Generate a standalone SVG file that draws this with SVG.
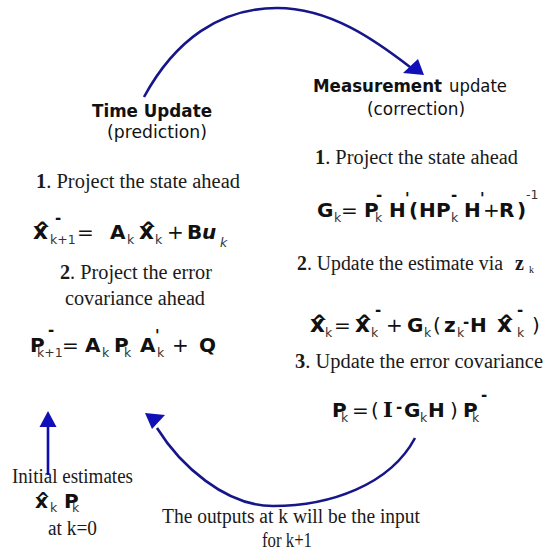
<svg xmlns="http://www.w3.org/2000/svg" width="543" height="557" viewBox="0 0 543 557">
<style>
.sr{font-family:"Liberation Serif","Times New Roman",serif;font-size:20px;fill:#1a1a1a}
.hd{font-family:"DejaVu Sans",Verdana,sans-serif;font-size:17.5px;fill:#111}
.eq{font-family:"DejaVu Sans",Verdana,sans-serif;font-weight:bold;font-size:20px;fill:#111}
.x{font-size:23px}
.r{font-weight:normal}
.s{font-weight:normal;font-size:12.5px;fill:#333}
.sp{font-size:15px}
.hat{font-size:20px}
.arc{fill:none;stroke:#16168a;stroke-width:2.6}
.head{fill:#1010b8}
</style>
<rect width="543" height="557" fill="#ffffff"/>

<g id="connectors">
  <path class="arc" d="M144,97 C175,40 220,8 277,8 C330,8 375,40 410,67"/>
  <polygon class="head" points="424,75 403,73 418,59"/>
  <path class="arc" d="M415,438 C390,485 330,506 273,506 C225,506 180,465 157,428"/>
  <polygon class="head" points="145,413 165,415 152,429"/>
  <line x1="48" y1="475" x2="48" y2="424" stroke="#0c0cb0" stroke-width="2.6"/>
  <polygon class="head" points="48,411 39.5,427 56.5,427"/>
</g>

<g id="time-update">
  <text class="hd" x="92" y="117" font-weight="bold" textLength="120" lengthAdjust="spacingAndGlyphs">Time Update</text>
  <text class="hd" x="107" y="138" textLength="100" lengthAdjust="spacingAndGlyphs">(prediction)</text>
  <text class="sr" x="36" y="188" textLength="204" lengthAdjust="spacingAndGlyphs"><tspan font-weight="bold">1</tspan>. Project the state ahead</text>
  <text id="eq-state-predict" class="eq"><tspan class="x" x="33" y="239">x</tspan><tspan class="hat" x="34" y="236">^</tspan><tspan class="sp" x="55" y="223">-</tspan><tspan class="s" x="50" y="244">k+1</tspan><tspan class="r" x="77" y="239">=</tspan><tspan x="110" y="239">A</tspan><tspan class="s" x="127" y="244">k</tspan><tspan class="x" x="139" y="239">x</tspan><tspan class="hat" x="140" y="236">^</tspan><tspan class="s" x="155" y="244">k</tspan><tspan class="r" x="167" y="239">+</tspan><tspan x="187" y="239">B</tspan><tspan x="202" y="239" font-style="italic">u</tspan><tspan class="s" x="220" y="247" font-style="italic">k</tspan></text>
  <text class="sr" x="60" y="279" textLength="152" lengthAdjust="spacingAndGlyphs"><tspan font-weight="bold">2</tspan>. Project the error</text>
  <text class="sr" x="65" y="305" textLength="140" lengthAdjust="spacingAndGlyphs">covariance ahead</text>
  <text id="eq-cov-predict" class="eq"><tspan x="30" y="352">P</tspan><tspan class="sp" x="48" y="335">-</tspan><tspan class="s" x="37" y="357">k+1</tspan><tspan class="r" x="62" y="352">=</tspan><tspan x="85" y="352">A</tspan><tspan class="s" x="102" y="357">k</tspan><tspan x="114" y="352">P</tspan><tspan class="s" x="124" y="357">k</tspan><tspan x="140" y="352">A</tspan><tspan class="sp" x="155" y="341">'</tspan><tspan class="s" x="157" y="357">k</tspan><tspan class="r" x="172" y="352">+</tspan><tspan x="199" y="352">Q</tspan></text>
</g>

<g id="measurement-update">
  <text class="hd" x="313" y="92" font-weight="bold" textLength="129" lengthAdjust="spacingAndGlyphs">Measurement</text>
  <text class="hd" x="449" y="92" textLength="58" lengthAdjust="spacingAndGlyphs">update</text>
  <text class="hd" x="367" y="115" textLength="98" lengthAdjust="spacingAndGlyphs">(correction)</text>
  <text class="sr" x="315" y="164" textLength="203" lengthAdjust="spacingAndGlyphs"><tspan font-weight="bold">1</tspan>. Project the state ahead</text>
  <text id="eq-gain" class="eq"><tspan x="317" y="217">G</tspan><tspan class="s" x="334" y="222">k</tspan><tspan class="r" x="341" y="217">=</tspan><tspan x="364" y="217">P</tspan><tspan class="sp" x="376" y="200">-</tspan><tspan class="s" x="375" y="222">k</tspan><tspan x="389" y="217">H</tspan><tspan class="sp" x="405" y="204">'</tspan><tspan x="409" y="217">(</tspan><tspan x="419" y="217">H</tspan><tspan x="436" y="217">P</tspan><tspan class="sp" x="451" y="200">-</tspan><tspan class="s" x="451" y="222">k</tspan><tspan x="464" y="217">H</tspan><tspan class="sp" x="480" y="204">'</tspan><tspan class="r" x="483" y="217">+</tspan><tspan x="499" y="217">R</tspan><tspan x="517" y="217">)</tspan><tspan class="s" x="526" y="199">-1</tspan></text>
  <text class="sr" x="297" y="270"><tspan textLength="206" lengthAdjust="spacingAndGlyphs"><tspan font-weight="bold">2</tspan>. Update the estimate via</tspan><tspan x="515" y="270" font-weight="bold">z</tspan><tspan x="529" y="273" font-size="10">k</tspan></text>
  <text id="eq-state-update" class="eq"><tspan class="x" x="310" y="332">x</tspan><tspan class="hat" x="311" y="329">^</tspan><tspan class="s" x="325" y="337">k</tspan><tspan class="r" x="334" y="332">=</tspan><tspan class="x" x="355" y="332">x</tspan><tspan class="hat" x="356" y="329">^</tspan><tspan class="sp" x="375" y="315">-</tspan><tspan class="s" x="371" y="337">k</tspan><tspan class="r" x="386" y="332">+</tspan><tspan x="407" y="332">G</tspan><tspan class="s" x="424" y="337">k</tspan><tspan class="r" x="433" y="332">(</tspan><tspan x="444" y="332">z</tspan><tspan class="s" x="457" y="337">k</tspan><tspan class="sp" x="463" y="327">-</tspan><tspan x="470" y="332">H</tspan><tspan class="x" x="497" y="332">x</tspan><tspan class="hat" x="498" y="329">^</tspan><tspan class="sp" x="517" y="315">-</tspan><tspan class="s" x="517" y="337">k</tspan><tspan class="r" x="532" y="332">)</tspan></text>
  <text class="sr" x="295" y="368" textLength="248" lengthAdjust="spacingAndGlyphs"><tspan font-weight="bold">3</tspan>. Update the error covariance</text>
  <text id="eq-cov-update" class="eq"><tspan x="332" y="417">P</tspan><tspan class="s" x="341" y="422">k</tspan><tspan class="r" x="352" y="417">=</tspan><tspan class="r" x="371" y="417">(</tspan><tspan x="383" y="417" font-family="DejaVu Serif, serif" font-size="21">I</tspan><tspan class="sp" x="396" y="412">-</tspan><tspan x="404" y="417">G</tspan><tspan class="s" x="420" y="422">k</tspan><tspan x="428" y="417">H</tspan><tspan class="r" x="450" y="417">)</tspan><tspan x="463" y="417">P</tspan><tspan class="sp" x="481" y="400">-</tspan><tspan class="s" x="472" y="422">k</tspan></text>
</g>

<g id="initial-estimates">
  <text class="sr" x="12" y="483" textLength="121" lengthAdjust="spacingAndGlyphs">Initial estimates</text>
  <text class="eq" font-size="17"><tspan x="35" y="508" font-size="20">x</tspan><tspan x="36" y="505" font-size="17">^</tspan><tspan class="s" x="50" y="512">k</tspan><tspan x="64" y="508">P</tspan><tspan class="s" x="72" y="512">k</tspan></text>
  <text class="sr" x="48" y="535" textLength="49" lengthAdjust="spacingAndGlyphs">at k=0</text>
</g>

<g id="loop-note">
  <text class="sr" x="162" y="523" textLength="258" lengthAdjust="spacingAndGlyphs">The outputs at k will be the input</text>
  <text class="sr" x="262" y="547" textLength="50" lengthAdjust="spacingAndGlyphs">for k+1</text>
</g>
</svg>
